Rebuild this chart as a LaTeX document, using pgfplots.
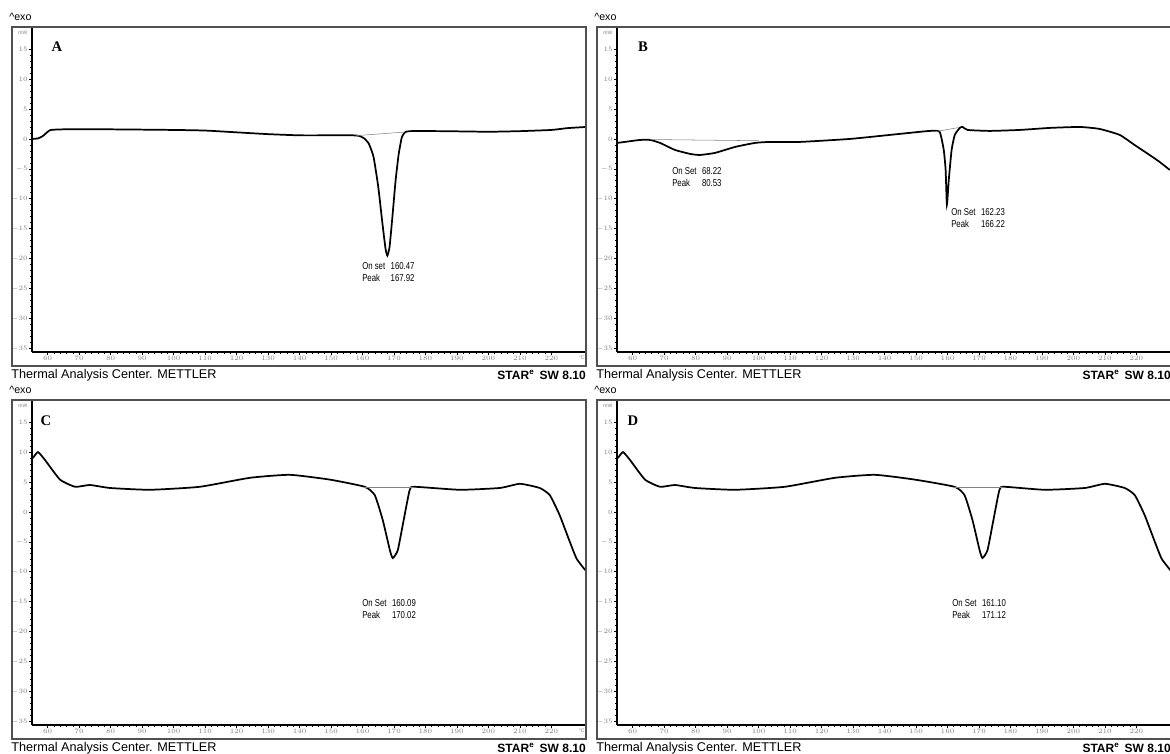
\documentclass[border=0pt]{standalone}
\usepackage{pgfplots}
\pgfplotsset{compat=1.18}
\usepackage{graphicx}
\usepackage{fontspec}
\setmainfont{Liberation Sans}
\newfontfamily\serifb{Liberation Serif}
\definecolor{frm}{RGB}{80,80,80}
\pgfplotsset{dsc/.style={
  scale only axis, width=415.5pt, height=243.75pt,
  xmin=55, xmax=231, ymin=-35.6, ymax=18.7,
  axis x line=bottom, axis y line=left,
  axis line style={-, black, line width=0.8pt},
  xtick={60,70,...,220}, ytick={-35,-30,...,15},
  minor x tick num=4, minor y tick num=4,
  tick align=outside, major tick length=2.2pt, minor tick length=1.3pt,
  tick style={black, line width=0.5pt},
  tick label style={font=\fontsize{3.8}{4}\selectfont, text=gray, inner sep=0.8pt},
  clip=false,
}}
\newcommand{\ann}[2]{\scalebox{0.78}[1]{\fontsize{7.5}{9}\selectfont\begin{tabular}{@{}l@{\hspace{0.7em}}l@{}}#1\end{tabular}}}
\begin{document}
\begin{tikzpicture}
\useasboundingbox (0,0) rectangle (877.5pt,-564.75pt);
% ---------- A ----------
\begin{axis}[dsc, at={(24pt,-264pt)}, anchor=south west]
\addplot[black, line width=1.3pt, smooth, tension=0.3] coordinates {
(55.2,0.0) (57,0.1) (58.5,0.5) (60,1.2) (61,1.5) (65,1.6) (80,1.6) (100,1.5) (110,1.4)
(120,1.1) (130,0.8) (140,0.6) (150,0.6) (157,0.6) (159,0.5) (160.5,0.1) (162,-0.8)
(163.5,-3) (165,-8) (166.3,-14) (167.3,-18.3) (167.9,-19.5) (168.6,-18) (169.5,-13)
(170.5,-7) (171.5,-2.5) (172.5,0.3) (173.5,1.1) (175,1.3) (185,1.3) (200,1.2) (210,1.3)
(220,1.5) (225,1.8) (231,2.0)};
\addplot[gray, line width=0.4pt] coordinates {(158,0.55) (173.5,1.15)};
\node[anchor=east, font=\fontsize{3.8}{4}\selectfont, text=gray] at (axis cs:55,17.8) {mW};
\node[anchor=north, font=\fontsize{3.8}{4}\selectfont, text=gray, inner sep=0.8pt, yshift=-2.2pt] at (axis cs:229.6,-35.6) {\textdegree C};
\end{axis}
% ---------- B ----------
\begin{axis}[dsc, at={(462.75pt,-264pt)}, anchor=south west]
\addplot[black, line width=1.3pt, smooth, tension=0.3] coordinates {
(55.0,-0.67) (57.5,-0.5) (62.3,-0.17) (65.5,-0.17) (68.7,-0.67) (73.4,-1.84) (78.2,-2.5)
(81.3,-2.68) (86.1,-2.34) (92.5,-1.34) (98.8,-0.67) (103.6,-0.5) (113.1,-0.5) (129.0,0)
(144.8,0.84) (154.4,1.34) (157.5,1.17) (158.8,-1.84) (159.4,-5.18) (159.8,-11.0)
(160.4,-6.85) (161.3,-1.84) (162.3,0.67) (163.9,1.84) (164.8,2.0) (166.4,1.5) (173.4,1.34)
(182.9,1.5) (192.5,1.84) (202.0,2.0) (208.3,1.67) (214.7,0.67) (219.4,-1.0) (224.2,-2.68)
(227.4,-3.85) (230.6,-5.18)};
\addplot[gray, line width=0.4pt] coordinates {(65.5,-0.1) (100,-0.3)};
\addplot[gray, line width=0.4pt] coordinates {(156,1.2) (163.5,1.9)};
\node[anchor=east, font=\fontsize{3.8}{4}\selectfont, text=gray] at (axis cs:55,17.8) {mW};
\end{axis}
% ---------- C ----------
\begin{axis}[dsc, at={(24pt,-543.75pt)}, anchor=south west]
\addplot[black, line width=1.3pt, smooth, tension=0.3] coordinates {
(55.3,9.0) (56.9,10.0) (59.1,8.7) (63.9,5.4) (68.7,4.2) (73.4,4.5) (79.8,4.0) (92.5,3.7)
(108.3,4.2) (124.2,5.7) (136.9,6.2) (149.6,5.4) (160.7,4.2) (163.9,2.8) (166.4,-1.3)
(168.7,-6.4) (169.6,-7.7) (171.2,-6.4) (173.1,-1.3) (175,3.7) (176.6,4.2) (190.9,3.7)
(203.6,4.0) (210,4.7) (216.3,4.0) (219.5,2.8) (222.6,-0.5) (225.5,-4.5) (228,-7.8) (230.9,-9.8)};
\addplot[gray, line width=0.4pt] coordinates {(160.5,4.2) (176.5,4.2)};
\node[anchor=east, font=\fontsize{3.8}{4}\selectfont, text=gray] at (axis cs:55,17.8) {mW};
\node[anchor=north, font=\fontsize{3.8}{4}\selectfont, text=gray, inner sep=0.8pt, yshift=-2.2pt] at (axis cs:229.6,-35.6) {\textdegree C};
\end{axis}
% ---------- D ----------
\begin{axis}[dsc, at={(462.75pt,-543.75pt)}, anchor=south west]
\addplot[black, line width=1.3pt, smooth, tension=0.3] coordinates {
(55.3,9.0) (56.9,10.0) (59.1,8.7) (63.9,5.4) (68.7,4.2) (73.4,4.5) (79.8,4.0) (92.5,3.7)
(108.3,4.2) (124.2,5.7) (136.9,6.2) (149.6,5.4) (162.2,4.2) (165.4,2.8) (167.9,-1.3)
(170.2,-6.4) (171.1,-7.7) (172.7,-6.4) (174.6,-1.3) (176.5,3.7) (178.1,4.2) (190.9,3.7)
(203.6,4.0) (210,4.7) (216.3,4.0) (219.5,2.8) (222.6,-0.5) (225.5,-4.5) (228,-7.8) (230.9,-9.8)};
\addplot[gray, line width=0.4pt] coordinates {(162,4.2) (178,4.2)};
\node[anchor=east, font=\fontsize{3.8}{4}\selectfont, text=gray] at (axis cs:55,17.8) {mW};
\end{axis}
% ---------- decorations ----------
\begin{scope}[x=0.75pt, y=-0.75pt]
\draw[frm, line width=0.9pt] (12,27) rectangle (586,366);
\draw[frm, line width=0.9pt] (597,27) rectangle (1171,366);
\draw[frm, line width=0.9pt] (12,400) rectangle (586,739);
\draw[frm, line width=0.9pt] (597,400) rectangle (1171,739);
\foreach \xo/\yo in {0/0, 585/0, 0/373, 585/373} {
  \node[anchor=west, font=\fontsize{8}{9}\selectfont, inner sep=0pt] at (9+\xo,17+\yo) {\textasciicircum exo};
  \node[anchor=west, font=\fontsize{9.5}{11}\selectfont, inner sep=0pt] at (11+\xo,375+\yo) {Thermal Analysis Center. METTLER};
  \node[anchor=east, font=\bfseries\fontsize{9}{11}\selectfont, inner sep=0pt] at (586+\xo,375+\yo) {STAR\textsuperscript{e}\, SW 8.10};
}
\node[font=\serifb\bfseries\fontsize{11}{12}\selectfont] at (57,47) {A};
\node[font=\serifb\bfseries\fontsize{11}{12}\selectfont] at (643,47) {B};
\node[font=\serifb\bfseries\fontsize{11}{12}\selectfont] at (46,421) {C};
\node[font=\serifb\bfseries\fontsize{11}{12}\selectfont] at (633,421) {D};
\node[anchor=north west, inner sep=0pt] at (362,261) {\ann{On set & 160.47\\ Peak & 167.92}{}};
\node[anchor=north west, inner sep=0pt] at (672,166) {\ann{On Set & 68.22\\ Peak & 80.53}{}};
\node[anchor=north west, inner sep=0pt] at (951,207) {\ann{On Set & 162.23\\ Peak & 166.22}{}};
\node[anchor=north west, inner sep=0pt] at (362,598) {\ann{On Set & 160.09\\ Peak & 170.02}{}};
\node[anchor=north west, inner sep=0pt] at (952,598) {\ann{On Set & 161.10\\ Peak & 171.12}{}};
\end{scope}
\end{tikzpicture}
\end{document}
